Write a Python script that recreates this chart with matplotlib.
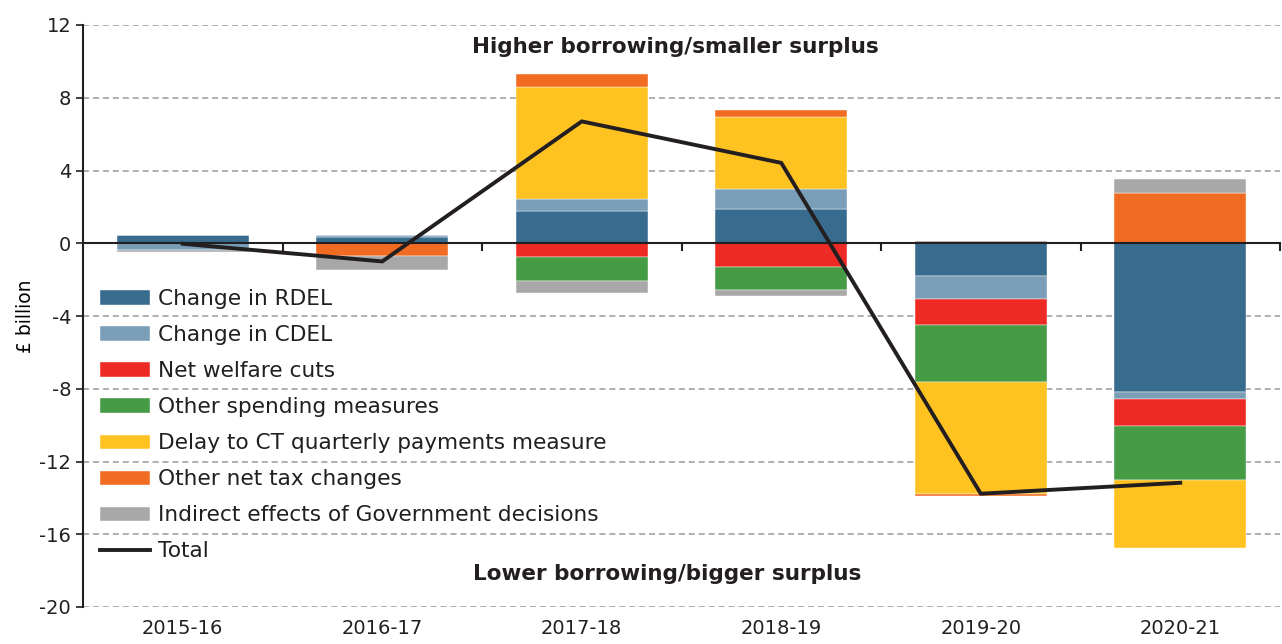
import matplotlib
matplotlib.use("Agg")
import matplotlib.pyplot as plt
import numpy as np

plt.rcParams["axes.unicode_minus"] = False
plt.rcParams["text.color"] = "#231f20"

# data (£ billion)
years = ["2015-16", "2016-17", "2017-18", "2018-19", "2019-20", "2020-21"]
rdel = [0.45, 0.35, 1.76, 1.88, -1.81, -8.19]
cdel = [-0.35, 0.10, 0.67, 1.10, -1.25, -0.36]
welfare = [0.0, 0.0, -0.73, -1.28, -1.41, -1.52]
other_spend = [0.0, 0.0, -1.32, -1.30, -3.17, -2.95]
ct_delay = [0.0, 0.0, 6.14, 3.94, -6.17, -3.72]
other_tax = [0.0, -0.70, 0.75, 0.43, -0.10, 2.75]
indirect = [-0.13, -0.75, -0.66, -0.33, 0.10, 0.77]
total = [-0.03, -1.00, 6.70, 4.42, -13.77, -13.17]

labels = ["Change in RDEL", "Change in CDEL", "Net welfare cuts",
          "Other spending measures", "Delay to CT quarterly payments measure",
          "Other net tax changes", "Indirect effects of Government decisions"]
colors = ["#386c8f", "#7a9db8", "#ee2a24", "#469b45", "#fec320", "#f26b22", "#a8a8a8"]
series = [rdel, cdel, welfare, other_spend, ct_delay, other_tax, indirect]

fig = plt.figure(figsize=(12.82, 6.44), dpi=100)
ax = fig.add_axes([83/1282, 1 - 607/644, (1280 - 83)/1282, (607 - 25)/644])

x = np.arange(len(years))
pos_base = np.zeros(len(years))
neg_base = np.zeros(len(years))
handles = []
for vals, lab, col in zip(series, labels, colors):
    v = np.array(vals)
    bottom = np.where(v >= 0, pos_base, neg_base)
    b = ax.bar(x, v, 0.66, bottom=bottom, color=col, label=lab, zorder=2,
               edgecolor="white", linewidth=0.3)
    handles.append(b)
    pos_base = pos_base + np.where(v >= 0, v, 0)
    neg_base = neg_base + np.where(v < 0, v, 0)

line, = ax.plot(x, total, color="#231f20", lw=2.8, label="Total", zorder=3)
handles.append(line)

ax.set_xlim(-0.5, 5.5)
ax.set_ylim(-20, 12)
ax.set_yticks(np.arange(-20, 13, 4))
ax.yaxis.grid(True, color="#9a9a9a", linestyle=(0, (4, 2.5)), lw=1.1, zorder=0)
ax.tick_params(axis="y", labelsize=14, length=5, width=1.2, color="#231f20",
               labelcolor="#231f20")

for s in ["top", "right"]:
    ax.spines[s].set_visible(False)
ax.spines["left"].set_color("#231f20")
ax.spines["left"].set_linewidth(1.5)
ax.spines["bottom"].set_position(("data", 0))
ax.spines["bottom"].set_color("#231f20")
ax.spines["bottom"].set_linewidth(1.5)
ax.spines["bottom"].set_zorder(4)
ax.set_xticks(np.arange(0.5, 6, 1))
ax.tick_params(axis="x", length=6, width=1.5, color="#231f20", labelbottom=False)

sec = ax.secondary_xaxis("bottom")
sec.set_xticks(x, years)
sec.tick_params(length=0, labelsize=14, pad=9, labelcolor="#231f20")
sec.spines["bottom"].set_visible(False)

ax.set_ylabel("£ billion", fontsize=13.5)
ax.yaxis.set_label_coords(-0.040, 0.5)

ax.text(2.47, 10.8, "Higher borrowing/smaller surplus", ha="center", va="center",
        fontsize=15.5, fontweight="bold")
ax.text(2.43, -18.2, "Lower borrowing/bigger surplus", ha="center", va="center",
        fontsize=15.5, fontweight="bold")

leg = ax.legend(handles=handles, labels=labels + ["Total"], loc="upper left",
                bbox_to_anchor=(0.014, 0.546), frameon=False,
                fontsize=15.6, handlelength=2.3, handleheight=0.65, labelspacing=0.74,
                handletextpad=0.4, borderaxespad=0, borderpad=0)

fig.savefig("out.png", dpi=100)
